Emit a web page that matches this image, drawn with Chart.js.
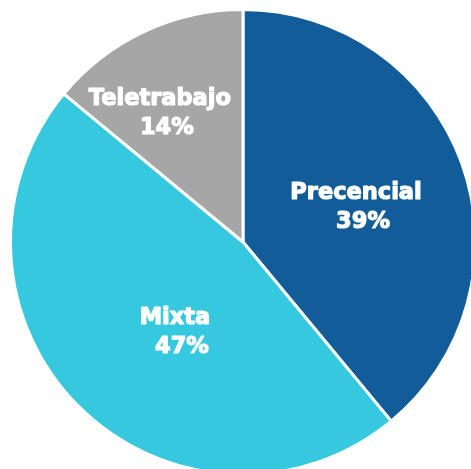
<!DOCTYPE html>
<html>
<head>
<meta charset="utf-8">
<script src="https://cdn.jsdelivr.net/npm/chart.js@4"></script>
<style>
  html, body { margin: 0; padding: 0; background: #fff; overflow: hidden; }
  #wrap { width: 480px; height: 480px; }
</style>
</head>
<body>
<div id="wrap"><canvas id="modalidadChart"></canvas></div>
<script>
const categories = ['Precencial', 'Mixta', 'Teletrabajo'];
const shares = [39, 47, 14];
const sliceColors = ['#115c99', '#36c8df', '#a6a6a6'];

// label placement inside each slice: fraction of radius, angle nudge (deg)
const labelRadius = [0.509, 0.485, 0.66];
const labelNudge = [2.6, -7.9, -7.6];

const sliceLabels = {
  id: 'sliceLabels',
  afterDatasetsDraw(chart) {
    const ctx = chart.ctx;
    const meta = chart.getDatasetMeta(0);
    ctx.save();
    ctx.fillStyle = '#ffffff';
    ctx.strokeStyle = '#ffffff';
    ctx.lineWidth = 1.2;
    ctx.lineJoin = 'round';
    ctx.textAlign = 'center';
    ctx.textBaseline = 'middle';
    ctx.font = 'bold 22.5px "DejaVu Sans"';
    meta.data.forEach((arc, i) => {
      const mid = (arc.startAngle + arc.endAngle) / 2 + labelNudge[i] * Math.PI / 180;
      const r = arc.outerRadius * labelRadius[i];
      const x = arc.x + Math.cos(mid) * r;
      const y = arc.y + Math.sin(mid) * r;
      const lines = [[categories[i], x, y - 14], [shares[i] + '%', x + 7, y + 15]];
      lines.forEach(([txt, lx, ly]) => {
        ctx.strokeText(txt, lx, ly);
        ctx.fillText(txt, lx, ly);
      });
    });
    ctx.restore();
  }
};

const ctx = document.getElementById('modalidadChart').getContext('2d');
new Chart(ctx, {
  type: 'pie',
  data: {
    labels: categories,
    datasets: [{
      data: shares,
      backgroundColor: sliceColors,
      borderColor: '#ffffff',
      borderWidth: 3,
      hoverOffset: 0
    }]
  },
  options: {
    responsive: true,
    maintainAspectRatio: false,
    animation: false,
    layout: { padding: { left: 9, top: 8, right: 3, bottom: 4 } },
    plugins: {
      legend: { display: false },
      tooltip: { enabled: false }
    }
  },
  plugins: [sliceLabels]
});
</script>
</body>
</html>
